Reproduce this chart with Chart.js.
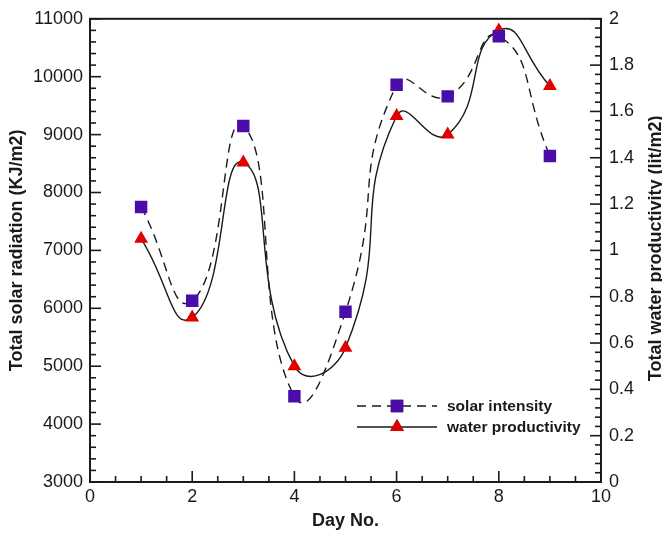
<!DOCTYPE html>
<html>
<head>
<meta charset="utf-8">
<script src="https://cdn.jsdelivr.net/npm/chart.js@4.4.1/dist/chart.umd.min.js"></script>
<style>
  html, body { margin: 0; padding: 0; background: #fff; }
  #wrap { width: 662px; height: 533px; }
</style>
</head>
<body>
<div id="wrap"><canvas id="chart" width="662" height="533"></canvas></div>
<script>
const days = [1, 2, 3, 4, 5, 6, 7, 8, 9];
const solarIntensity = [7750, 6130, 9150, 4480, 5940, 9860, 9660, 10700, 8630];
const waterProductivity = [1.05, 0.71, 1.38, 0.50, 0.58, 1.58, 1.50, 1.95, 1.71];

const FONT = "'Liberation Sans', Arial, Helvetica, sans-serif";
const PURPLE = '#4b0caa';
const RED = '#e00000';
const INK = '#1a1a1a';
const DASH = [9, 6];

const toPoints = (xs, ys) => xs.map((x, i) => ({ x: x, y: ys[i] }));
const plain = v => String(Number(v.toFixed(2)));

// frame + inward ticks (major and minor), drawn from the scales
const frameTicks = {
  id: 'frameTicks',
  afterDatasetsDraw(chart) {
    const { ctx, chartArea: a, scales } = chart;
    ctx.save();
    ctx.strokeStyle = INK;
    ctx.lineWidth = 2;
    ctx.strokeRect(a.left, a.top, a.right - a.left, a.bottom - a.top);
    ctx.lineWidth = 1.6;
    const tick = (x1, y1, x2, y2) => {
      ctx.beginPath(); ctx.moveTo(x1, y1); ctx.lineTo(x2, y2); ctx.stroke();
    };
    for (let i = 0; i <= 20; i++) {
      const x = scales.x.getPixelForValue(i * 0.5);
      tick(x, a.bottom, x, a.bottom - (i % 4 === 0 ? 11 : 6));
    }
    for (let i = 0; i <= 40; i++) {
      const y = scales.y.getPixelForValue(3000 + i * 200);
      tick(a.left, y, a.left + (i % 5 === 0 ? 11 : 6), y);
    }
    for (let i = 0; i <= 50; i++) {
      const y = scales.y1.getPixelForValue(i * 0.04);
      tick(a.right, y, a.right - (i % 5 === 0 ? 11 : 6), y);
    }
    ctx.restore();
  }
};

// right-hand title reads bottom-to-top like the left one
const rightTitle = {
  id: 'rightTitle',
  afterDraw(chart) {
    const { ctx, chartArea: a } = chart;
    ctx.save();
    ctx.translate(656, (a.top + a.bottom) / 2 - 2);
    ctx.rotate(-Math.PI / 2);
    ctx.font = 'bold 18px ' + FONT;
    ctx.fillStyle = INK;
    ctx.textAlign = 'center';
    ctx.textBaseline = 'middle';
    ctx.fillText('Total water productivity (lit/m2)', 0, 0);
    ctx.restore();
  }
};

// legend inside the plot, bottom right
const innerLegend = {
  id: 'innerLegend',
  afterDraw(chart) {
    const { ctx } = chart;
    const rows = [406, 427];
    ctx.save();
    chart.data.datasets.forEach((ds, i) => {
      const y = rows[i];
      ctx.strokeStyle = INK;
      ctx.lineWidth = 1.5;
      ctx.setLineDash(ds.borderDash || []);
      ctx.beginPath(); ctx.moveTo(357, y); ctx.lineTo(437, y); ctx.stroke();
      ctx.setLineDash([]);
      Chart.helpers.drawPoint(ctx, {
        pointStyle: ds.pointStyle, radius: ds.pointRadius, borderWidth: 0
      }, 397, y);
      ctx.fillStyle = ds.pointBackgroundColor;
      ctx.fill();
      ctx.fillStyle = INK;
      ctx.font = 'bold 15.5px ' + FONT;
      ctx.textAlign = 'left';
      ctx.textBaseline = 'middle';
      ctx.fillText(ds.label, 447, y + 1);
    });
    ctx.restore();
  }
};

new Chart(document.getElementById('chart'), {
  type: 'line',
  data: {
    datasets: [
      {
        label: 'solar intensity',
        data: toPoints(days, solarIntensity),
        yAxisID: 'y',
        borderColor: INK,
        borderWidth: 1.4,
        borderDash: DASH,
        tension: 0.55,
        pointStyle: 'rect',
        pointRadius: 8.8,
        pointBackgroundColor: PURPLE,
        pointBorderColor: PURPLE,
        pointBorderWidth: 0
      },
      {
        label: 'water productivity',
        data: toPoints(days, waterProductivity),
        yAxisID: 'y1',
        borderColor: INK,
        borderWidth: 1.4,
        tension: 0.55,
        pointStyle: 'triangle',
        pointRadius: 8,
        pointBackgroundColor: RED,
        pointBorderColor: RED,
        pointBorderWidth: 0
      }
    ]
  },
  options: {
    responsive: false,
    animation: false,
    layout: { padding: { top: 16, left: 0, right: 0, bottom: 0 } },
    plugins: { legend: { display: false }, tooltip: { enabled: false } },
    scales: {
      x: {
        type: 'linear',
        min: 0, max: 10,
        grid: { display: false, drawTicks: false },
        border: { display: false },
        ticks: { stepSize: 2, padding: 4, color: INK, font: { family: FONT, size: 18 }, maxRotation: 0, callback: plain },
        title: { display: true, text: 'Day No.', color: INK, padding: { top: 0, bottom: 1 },
                 font: { family: FONT, size: 18, weight: 'bold' } },
        afterFit: s => { s.height = 51; }
      },
      y: {
        position: 'left',
        min: 3000, max: 11000,
        grid: { display: false, drawTicks: false },
        border: { display: false },
        ticks: { stepSize: 1000, padding: 7, color: INK, font: { family: FONT, size: 18 }, callback: plain },
        title: { display: true, text: 'Total solar radiation (KJ/m2)', color: INK, padding: { top: 6, bottom: 0 },
                 font: { family: FONT, size: 18, weight: 'bold' } },
        afterFit: s => { s.width = 90; }
      },
      y1: {
        position: 'right',
        min: 0, max: 2,
        grid: { display: false, drawTicks: false },
        border: { display: false },
        ticks: { stepSize: 0.2, padding: 8, color: INK, font: { family: FONT, size: 18 }, callback: plain },
        afterFit: s => { s.width = 61; }
      }
    }
  },
  plugins: [frameTicks, rightTitle, innerLegend]
});
</script>
</body>
</html>
